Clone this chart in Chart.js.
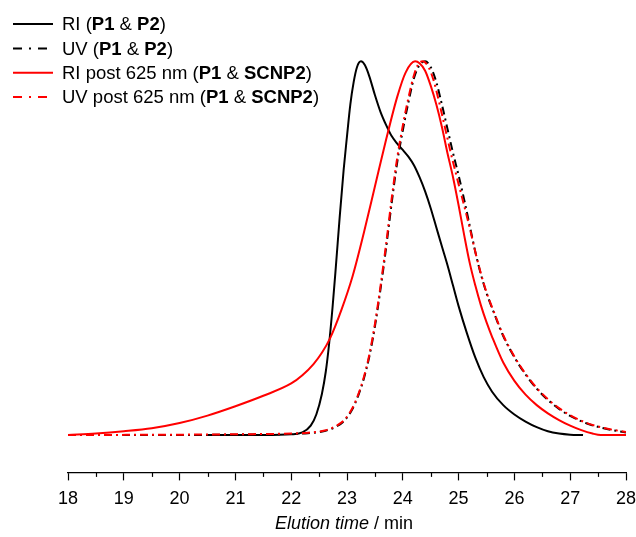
<!DOCTYPE html>
<html>
<head>
<meta charset="utf-8">
<script src="https://cdn.jsdelivr.net/npm/chart.js@4"></script>
<style>
html,body{margin:0;padding:0;background:#fff;}
canvas{display:block;}
</style>
</head>
<body>
<canvas id="c" width="636" height="537"></canvas>
<script>
// ---- Data ----
const riP1P2_x = [20.5,21.5,22.0,22.2,22.35,22.45,22.55,22.62,22.68,22.74,22.8,22.87,22.94,23.0,23.06,23.12,23.18,23.25,23.32,23.4,23.5,23.6,23.7,23.8,23.9,24.0,24.1,24.2,24.3,24.4,24.5,24.6,24.7,24.8,24.9,25.0,25.15,25.3,25.45,25.6,25.8,26.0,26.2,26.4,26.6,26.8,27.0,27.23];
const riP1P2_y = [0,0,0.002,0.007,0.025,0.055,0.11,0.17,0.245,0.34,0.45,0.585,0.71,0.8,0.885,0.945,0.985,1.0,0.99,0.96,0.91,0.865,0.83,0.8,0.78,0.763,0.745,0.722,0.69,0.652,0.607,0.556,0.505,0.455,0.4,0.345,0.272,0.207,0.155,0.116,0.08,0.055,0.036,0.021,0.01,0.004,0.001,0];

const uvP1P2_x = [18,20,21,22.0,22.3,22.6,22.8,22.95,23.1,23.2,23.3,23.4,23.5,23.6,23.7,23.8,23.9,24.0,24.1,24.2,24.3,24.4,24.5,24.6,24.7,24.8,24.9,25.0,25.1,25.2,25.3,25.4,25.5,25.6,25.8,26.0,26.2,26.4,26.6,26.8,27.0,27.3,27.6,28];
const uvP1P2_y = [0,0,0.001,0.003,0.005,0.011,0.022,0.038,0.07,0.105,0.15,0.21,0.29,0.39,0.5,0.62,0.73,0.815,0.89,0.955,0.99,1.0,0.985,0.945,0.885,0.82,0.755,0.695,0.63,0.56,0.49,0.43,0.38,0.34,0.265,0.208,0.162,0.124,0.094,0.07,0.051,0.031,0.018,0.007];

const riSCNP2_x = [18,18.5,19,19.5,20,20.5,21,21.5,22,22.2,22.4,22.55,22.7,22.9,23.1,23.3,23.5,23.7,23.9,24.05,24.22,24.3,24.4,24.5,24.6,24.7,24.8,24.9,25.0,25.1,25.2,25.3,25.4,25.5,25.6,25.8,26.0,26.2,26.4,26.6,26.8,27.0,27.2,27.4,27.55,28];
const riSCNP2_y = [0,0.004,0.01,0.018,0.032,0.052,0.077,0.105,0.138,0.16,0.19,0.22,0.26,0.335,0.425,0.54,0.665,0.79,0.905,0.97,1.0,0.995,0.975,0.935,0.885,0.825,0.755,0.69,0.615,0.535,0.46,0.4,0.347,0.302,0.263,0.194,0.145,0.108,0.08,0.058,0.04,0.025,0.013,0.004,0,0];

const uvSCNP2_x = [18,20,21,22.0,22.3,22.6,22.8,22.95,23.1,23.2,23.3,23.4,23.5,23.6,23.7,23.8,23.9,24.0,24.1,24.2,24.28,24.36,24.46,24.56,24.66,24.76,24.86,24.96,25.08,25.19,25.3,25.4,25.5,25.6,25.8,26.0,26.2,26.4,26.6,26.8,27.0,27.3,27.6,28];
const uvSCNP2_y = [0,0.001,0.002,0.004,0.006,0.012,0.024,0.04,0.073,0.108,0.154,0.215,0.297,0.398,0.51,0.632,0.742,0.828,0.902,0.963,0.993,1.0,0.985,0.945,0.885,0.82,0.755,0.695,0.625,0.56,0.49,0.432,0.382,0.342,0.267,0.21,0.164,0.126,0.096,0.072,0.053,0.032,0.019,0.008];

// legend labels: [text, bold]
const legendRI = [["RI (",false],["P1",true],[" & ",false],["P2",true],[")",false]];
const legendUV = [["UV (",false],["P1",true],[" & ",false],["P2",true],[")",false]];
const legendRIpost = [["RI post 625 nm (",false],["P1",true],[" & ",false],["SCNP2",true],[")",false]];
const legendUVpost = [["UV post 625 nm (",false],["P1",true],[" & ",false],["SCNP2",true],[")",false]];

const xTickMin = 18, xTickMax = 28, xTickStep = 1;
const xTitle = [["Elution time",true],[" / min",false]]; // true = italic

// ---- Chart ----
const FONT = "'Liberation Sans', Arial, Helvetica, sans-serif";
const DASHDOT = [8,4,2,4];
function pts(xs, ys){ return xs.map((x,i)=>({x:x, y:ys[i]})); }

const datasets = [
  {label:'RI (P1 & P2)', data:pts(riP1P2_x, riP1P2_y), borderColor:'#000000', borderWidth:2, borderDash:[], order:3, legendText:legendRI},
  {label:'UV (P1 & P2)', data:pts(uvP1P2_x, uvP1P2_y), borderColor:'#000000', borderWidth:2, borderDash:DASHDOT, order:2, legendText:legendUV},
  {label:'RI post 625 nm (P1 & SCNP2)', data:pts(riSCNP2_x, riSCNP2_y), borderColor:'#ff0000', borderWidth:2, borderDash:[], order:1, legendText:legendRIpost},
  {label:'UV post 625 nm (P1 & SCNP2)', data:pts(uvSCNP2_x, uvSCNP2_y), borderColor:'#ff0000', borderWidth:2, borderDash:DASHDOT, order:0, legendText:legendUVpost}
].map(d=>Object.assign({pointRadius:0, fill:false, cubicInterpolationMode:'monotone'}, d));

const extrasPlugin = {
  id:'extras',
  afterDraw(chart){
    const ctx = chart.ctx;
    const xs = chart.scales.x;
    const area = chart.chartArea;
    ctx.save();
    // minor ticks
    ctx.strokeStyle = '#000';
    ctx.lineWidth = 1.2;
    for (let v = xTickMin + xTickStep/2; v < xTickMax; v += xTickStep){
      const px = Math.round(xs.getPixelForValue(v)) + 0.5;
      ctx.beginPath();
      ctx.moveTo(px, area.bottom);
      ctx.lineTo(px, area.bottom + 4.5);
      ctx.stroke();
    }
    // axis title with mixed italic
    const fs = 18;
    ctx.fillStyle = '#000';
    ctx.textBaseline = 'alphabetic';
    let total = 0;
    xTitle.forEach(([t,it])=>{ ctx.font = (it?'italic ':'') + fs + 'px ' + FONT; total += ctx.measureText(t).width; });
    let x = (area.left + area.right)/2 - total/2 - 3;
    const ty = 529;
    xTitle.forEach(([t,it])=>{ ctx.font = (it?'italic ':'') + fs + 'px ' + FONT; ctx.textAlign='left'; ctx.fillText(t, x, ty); x += ctx.measureText(t).width; });
    // legend
    const lfs = 18.5;
    const rowY = [24, 48.5, 72.8, 97];
    chart.data.datasets.forEach((ds, i)=>{
      const y = rowY[i];
      ctx.strokeStyle = ds.borderColor;
      ctx.lineWidth = 2;
      ctx.setLineDash(ds.borderDash.length ? [9,7,2,7] : []);
      ctx.beginPath();
      ctx.moveTo(13, y);
      ctx.lineTo(53, y);
      ctx.stroke();
      ctx.setLineDash([]);
      let tx = 62;
      ctx.textBaseline = 'middle';
      ds.legendText.forEach(([t,b])=>{
        ctx.font = (b?'bold ':'') + lfs + 'px ' + FONT;
        ctx.fillStyle = '#000';
        ctx.fillText(t, tx, y + 1);
        tx += ctx.measureText(t).width;
      });
    });
    ctx.restore();
  }
};

new Chart(document.getElementById('c'), {
  type:'line',
  data:{datasets:datasets},
  options:{
    responsive:false,
    animation:false,
    devicePixelRatio:1,
    layout:{padding:{left:68, right:10, top:24, bottom:19}},
    plugins:{legend:{display:false}, tooltip:{enabled:false}},
    scales:{
      x:{
        type:'linear', min:xTickMin, max:xTickMax,
        afterFit(scale){ scale.paddingLeft = 0; scale.paddingRight = 0; },
        grid:{display:true, drawOnChartArea:false, drawTicks:true, tickLength:8, tickWidth:1.2, tickColor:'#000'},
        border:{display:true, color:'#000', width:1.2},
        ticks:{stepSize:xTickStep, padding:8, color:'#000', font:{family:FONT, size:18}, maxRotation:0, autoSkip:false}
      },
      y:{display:false, min:-0.1, max:1.1}
    }
  },
  plugins:[extrasPlugin]
});
</script>
</body>
</html>
